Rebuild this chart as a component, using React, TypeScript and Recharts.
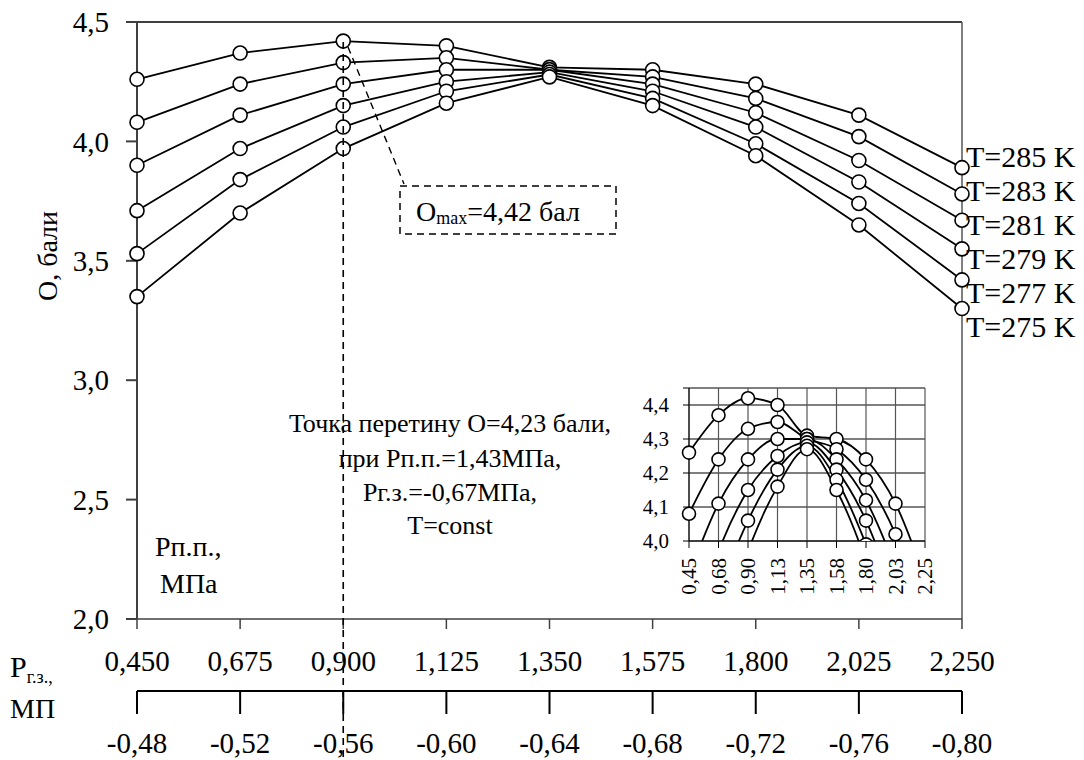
import { LineChart, Line, XAxis, YAxis, CartesianGrid, ReferenceLine } from 'recharts';

// Pп.п. (top axis) and Pг.з. (second axis) categories
const PPP = ['0,450', '0,675', '0,900', '1,125', '1,350', '1,575', '1,800', '2,025', '2,250'];
const PGZ = ['-0,48', '-0,52', '-0,56', '-0,60', '-0,64', '-0,68', '-0,72', '-0,76', '-0,80'];
const INSET_CATS = ['0,45', '0,68', '0,90', '1,13', '1,35', '1,58', '1,80', '2,03', '2,25'];

// O, бали for each temperature
const T285 = [4.26, 4.37, 4.42, 4.40, 4.31, 4.30, 4.24, 4.11, 3.89];
const T283 = [4.08, 4.24, 4.33, 4.35, 4.30, 4.27, 4.18, 4.02, 3.78];
const T281 = [3.90, 4.11, 4.24, 4.30, 4.30, 4.24, 4.12, 3.92, 3.67];
const T279 = [3.71, 3.97, 4.15, 4.25, 4.29, 4.21, 4.06, 3.83, 3.55];
const T277 = [3.53, 3.84, 4.06, 4.21, 4.28, 4.18, 3.99, 3.74, 3.42];
const T275 = [3.35, 3.70, 3.97, 4.16, 4.27, 4.15, 3.94, 3.65, 3.30];

const SERIES = [
  { key: 't285', label: 'T=285 K', values: T285 },
  { key: 't283', label: 'T=283 K', values: T283 },
  { key: 't281', label: 'T=281 K', values: T281 },
  { key: 't279', label: 'T=279 K', values: T279 },
  { key: 't277', label: 'T=277 K', values: T277 },
  { key: 't275', label: 'T=275 K', values: T275 },
];

const Y_TICKS = [2.0, 2.5, 3.0, 3.5, 4.0, 4.5];
const INSET_Y_TICKS = [4.0, 4.1, 4.2, 4.3, 4.4, 4.45];

const rows = PPP.map((p, i) => {
  const row: Record<string, string | number> = { ppp: p, pgz: PGZ[i], inset: INSET_CATS[i] };
  SERIES.forEach(s => { row[s.key] = s.values[i]; });
  return row;
});

const FONT = 'Liberation Serif';
const comma = (v: number) => v.toFixed(1).replace('.', ',');

// main plot frame
const PLOT_LEFT = 137;
const PLOT_RIGHT = 962;
const PLOT_TOP = 22;
const X_OMAX = PLOT_LEFT + 2 * ((PLOT_RIGHT - PLOT_LEFT) / 8);

function InsetTick({ x, y, payload }: any) {
  return (
    <g transform={`translate(${x},${y})`}>
      <text transform="rotate(-90)" x={-8} dy="0.35em" textAnchor="end"
        fontSize={21} fontFamily={FONT} fill="#000">
        {payload.value}
      </text>
    </g>
  );
}

export default function App() {
  return (
    <div style={{ position: 'fixed', left: 0, top: 0, width: 1084, height: 760, background: '#fff', fontFamily: FONT }}>
      <div style={{ position: 'absolute', left: 0, top: 0 }}>
        <LineChart width={1084} height={760} data={rows}
          margin={{ top: PLOT_TOP, right: 1084 - PLOT_RIGHT, left: PLOT_LEFT - 80, bottom: 0 }}>
          <XAxis dataKey="ppp" interval={0} height={72} tickSize={10} tickMargin={21}
            stroke="#404040" strokeWidth={1.5}
            tick={{ fill: '#000', fontSize: 29, fontFamily: FONT }} />
          <XAxis xAxisId="pgz" dataKey="pgz" interval={0} height={69} tickSize={23} tickMargin={18}
            stroke="#000" strokeWidth={2}
            tick={{ fill: '#000', fontSize: 29, fontFamily: FONT }} />
          <YAxis type="number" domain={[2, 4.5]} ticks={Y_TICKS} width={80} interval={0}
            tickSize={11} tickMargin={17} tickFormatter={comma}
            stroke="#404040" strokeWidth={2}
            tick={{ fill: '#000', fontSize: 29, fontFamily: FONT }} />
          <ReferenceLine y={4.5} stroke="#000" strokeWidth={1.5} />
          <ReferenceLine x="2,250" stroke="#555" strokeWidth={1.5} />
          {SERIES.map(s => (
            <Line key={s.key} dataKey={s.key} stroke="#000" strokeWidth={1.8}
              dot={{ r: 7, fill: '#fff', stroke: '#000', strokeWidth: 1.6 }}
              isAnimationActive={false} />
          ))}
        </LineChart>
      </div>

      <div style={{ position: 'absolute', left: 630, top: 370 }}>
        <LineChart width={310} height={250} data={rows}
          margin={{ top: 18, right: 15, left: 14, bottom: 19 }}>
          <CartesianGrid vertical={false} stroke="#000" strokeWidth={1.2} />
          <CartesianGrid horizontal={false} stroke="#555" strokeWidth={1.2} />
          <XAxis dataKey="inset" interval={0} height={60} tickSize={7}
            stroke="#000" tick={<InsetTick />} />
          <YAxis type="number" domain={[4.0, 4.45]} ticks={INSET_Y_TICKS} allowDataOverflow interval={0}
            width={45} tickSize={6} tickMargin={14} stroke="#000"
            tickFormatter={(v: number) => (v === 4.45 ? '' : comma(v))}
            tick={{ fill: '#000', fontSize: 21, fontFamily: FONT }} />
          {SERIES.map(s => (
            <Line key={s.key} type="monotone" dataKey={s.key} stroke="#000" strokeWidth={1.8}
              dot={{ r: 6.5, fill: '#fff', stroke: '#000', strokeWidth: 1.6 }}
              isAnimationActive={false} />
          ))}
        </LineChart>
      </div>

      <svg width={1084} height={760} style={{ position: 'absolute', left: 0, top: 0, pointerEvents: 'none' }}
        fontFamily={FONT} fill="#000">
        {/* Omax guides */}
        <line x1={X_OMAX} y1={42} x2={X_OMAX} y2={760} stroke="#000" strokeWidth={1.6} strokeDasharray="7 5" />
        <line x1={348} y1={47} x2={404} y2={184} stroke="#000" strokeWidth={1.4} strokeDasharray="7 5" />
        <rect x={400} y={186} width={216} height={48} fill="#fff" stroke="#000" strokeWidth={1.5} strokeDasharray="7 5" />
        <text x={416} y={221} fontSize={28}>
          O<tspan fontSize={18} dy={3}>max</tspan><tspan dy={-3}>=4,42 бал</tspan>
        </text>

        {/* axis titles */}
        <text transform="translate(47,256) rotate(-90)" textAnchor="middle" dominantBaseline="central" fontSize={28}>
          О, бали
        </text>
        <text x={155} y={546} fontSize={28} dominantBaseline="central">Рп.п.,</text>
        <text x={160} y={583} fontSize={28} dominantBaseline="central">МПа</text>
        <text x={10} y={677} fontSize={30}>
          Р<tspan fontSize={18} dy={6}>г.з.,</tspan>
        </text>
        <text x={10} y={718} fontSize={28}>МП</text>

        {/* series labels */}
        {SERIES.map((s, i) => (
          <text key={s.key} x={966} y={156 + i * 34} fontSize={30} dominantBaseline="central">{s.label}</text>
        ))}

        {/* intersection note */}
        <g textAnchor="middle" fontSize={26}>
          <text x={450} y={423} dominantBaseline="central">Точка перетину О=4,23 бали,</text>
          <text x={450} y={458} dominantBaseline="central">при Рп.п.=1,43МПа,</text>
          <text x={450} y={492} dominantBaseline="central">Рг.з.=-0,67МПа,</text>
          <text x={450} y={525} dominantBaseline="central">T=const</text>
        </g>
      </svg>
    </div>
  );
}
